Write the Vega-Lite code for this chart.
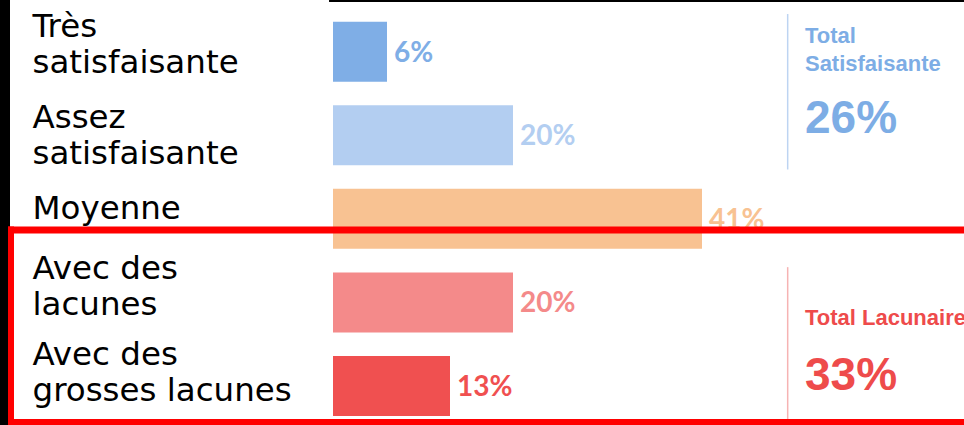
{
  "$schema": "https://vega.github.io/schema/vega-lite/v6.json",
  "width": 954,
  "height": 425,
  "autosize": {"type": "none"},
  "padding": {"left": 10, "top": 0, "right": 0, "bottom": 0},
  "background": "black",
  "config": {"view": {"fill": "white", "stroke": null}},
  "datasets": {
    "ratings": [
      {"appreciation": "Très satisfaisante", "part": 0.06},
      {"appreciation": "Assez satisfaisante", "part": 0.20},
      {"appreciation": "Moyenne", "part": 0.41},
      {"appreciation": "Avec des lacunes", "part": 0.20},
      {"appreciation": "Avec des grosses lacunes", "part": 0.13}
    ],
    "totals": [
      {"groupe": "Total Satisfaisante", "total": 0.26},
      {"groupe": "Total Lacunaire", "total": 0.33}
    ],
    "cadre": [{"zone": "lacunaire"}]
  },
  "data": {"name": "ratings"},
  "layer": [
    {
      "mark": {"type": "bar"},
      "encoding": {
        "y": {
          "field": "appreciation", "type": "nominal", "sort": null,
          "scale": {"domain": ["Très satisfaisante", "Assez satisfaisante", "Moyenne", "Avec des lacunes", "Avec des grosses lacunes"], "paddingInner": 0.2821, "paddingOuter": 0.1837, "align": 0.707},
          "axis": {
            "title": null, "domain": false, "ticks": false, "tickSize": 0, "grid": false, "zindex": 1,
            "labelPadding": -22, "labelAlign": "left", "labelBaseline": "alphabetic",
            "labelOffset": {
              "condition": [
                {"test": "datum.value === 'Très satisfaisante'", "value": -15},
                {"test": "datum.value === 'Assez satisfaisante'", "value": -7.5},
                {"test": "datum.value === 'Avec des lacunes'", "value": -23},
                {"test": "datum.value === 'Avec des grosses lacunes'", "value": -21}
              ],
              "value": 0
            },
            "labelFont": "DejaVu Sans", "labelFontSize": 32.5, "labelColor": "black", "labelLineHeight": 36, "labelLimit": 600,
            "labelExpr": "indexof(datum.label, 'Avec des ') == 0 ? ['Avec des', substring(datum.label, 9)] : (indexof(datum.label, ' ') > 0 ? [substring(datum.label, 0, indexof(datum.label, ' ')), substring(datum.label, indexof(datum.label, ' ') + 1)] : datum.label)"
          }
        },
        "x": {"field": "part", "type": "quantitative", "axis": null, "scale": {"domain": [-0.35889, 0.70111], "nice": false, "zero": false}},
        "color": {
          "field": "appreciation", "type": "nominal", "legend": null,
          "scale": {"domain": ["Très satisfaisante", "Assez satisfaisante", "Moyenne", "Avec des lacunes", "Avec des grosses lacunes"], "range": ["#7FAEE6", "#B3CEF1", "#F8C292", "#F48A8A", "#F05050"]}
        }
      }
    },
    {
      "data": {"name": "cadre"},
      "mark": {"type": "rule", "color": "black", "strokeWidth": 2},
      "encoding": {
        "x": {"datum": -0.0044, "type": "quantitative"},
        "x2": {"datum": 0.72},
        "y": {"datum": "Très satisfaisante", "type": "nominal", "bandPosition": -0.345}
      }
    },
    {
      "mark": {"type": "text", "align": "left", "baseline": "alphabetic", "dx": 7, "dy": 10, "font": "Lato", "fontWeight": "bold", "fontSize": 28},
      "encoding": {
        "y": {"field": "appreciation", "type": "nominal"},
        "x": {"field": "part", "type": "quantitative"},
        "text": {"field": "part", "format": ".0%"},
        "color": {"field": "appreciation", "type": "nominal", "legend": null}
      }
    },
    {
      "data": {"name": "totals"},
      "transform": [{"filter": "datum.groupe === 'Total Satisfaisante'"}],
      "mark": {"type": "rule", "color": "#BDD4F2", "strokeWidth": 1.5},
      "encoding": {
        "x": {"datum": 0.5052, "type": "quantitative"},
        "y": {"datum": "Très satisfaisante", "type": "nominal", "bandPosition": -0.128},
        "y2": {"datum": "Assez satisfaisante", "bandPosition": 1.07}
      }
    },
    {
      "data": {"name": "totals"},
      "transform": [{"filter": "datum.groupe === 'Total Satisfaisante'"}],
      "mark": {"type": "text", "align": "left", "baseline": "alphabetic", "font": "Liberation Sans", "fontWeight": "bold", "fontSize": 22, "lineBreak": " ", "lineHeight": 28.3, "color": "#7DADE5"},
      "encoding": {
        "x": {"datum": 0.5244, "type": "quantitative"},
        "y": {"datum": "Très satisfaisante", "type": "nominal", "bandPosition": 0.35},
        "text": {"field": "groupe"}
      }
    },
    {
      "data": {"name": "totals"},
      "transform": [{"filter": "datum.groupe === 'Total Satisfaisante'"}],
      "mark": {"type": "text", "align": "left", "baseline": "alphabetic", "font": "Liberation Sans", "fontWeight": "bold", "fontSize": 46, "color": "#7DADE5"},
      "encoding": {
        "x": {"datum": 0.5244, "type": "quantitative"},
        "y": {"datum": "Assez satisfaisante", "type": "nominal", "bandPosition": 0.46},
        "text": {"field": "total", "format": ".0%"}
      }
    },
    {
      "data": {"name": "totals"},
      "transform": [{"filter": "datum.groupe === 'Total Lacunaire'"}],
      "mark": {"type": "rule", "color": "#F6B3B3", "strokeWidth": 1.5},
      "encoding": {
        "x": {"datum": 0.5052, "type": "quantitative"},
        "y": {"datum": "Avec des lacunes", "type": "nominal", "bandPosition": -0.088},
        "y2": {"datum": "Avec des grosses lacunes", "bandPosition": 1.15}
      }
    },
    {
      "data": {"name": "totals"},
      "transform": [{"filter": "datum.groupe === 'Total Lacunaire'"}],
      "mark": {"type": "text", "align": "left", "baseline": "alphabetic", "font": "Liberation Sans", "fontWeight": "bold", "fontSize": 22, "color": "#EE4B4B"},
      "encoding": {
        "x": {"datum": 0.5244, "type": "quantitative"},
        "y": {"datum": "Avec des lacunes", "type": "nominal", "bandPosition": 0.878},
        "text": {"field": "groupe"}
      }
    },
    {
      "data": {"name": "totals"},
      "transform": [{"filter": "datum.groupe === 'Total Lacunaire'"}],
      "mark": {"type": "text", "align": "left", "baseline": "alphabetic", "font": "Liberation Sans", "fontWeight": "bold", "fontSize": 46, "color": "#EE4B4B"},
      "encoding": {
        "x": {"datum": 0.5244, "type": "quantitative"},
        "y": {"datum": "Avec des grosses lacunes", "type": "nominal", "bandPosition": 0.567},
        "text": {"field": "total", "format": ".0%"}
      }
    },
    {
      "data": {"name": "cadre"},
      "mark": {"type": "rule", "color": "#FF0000", "strokeWidth": 7},
      "encoding": {
        "x": {"datum": -0.3611, "type": "quantitative"},
        "x2": {"datum": 0.72},
        "y": {"datum": "Moyenne", "type": "nominal", "bandPosition": 0.687}
      }
    },
    {
      "data": {"name": "cadre"},
      "mark": {"type": "rule", "color": "#FF0000", "strokeWidth": 6},
      "encoding": {
        "x": {"datum": -0.35778, "type": "quantitative"},
        "y": {"datum": "Moyenne", "type": "nominal", "bandPosition": 0.628},
        "y2": {"datum": "Avec des grosses lacunes", "bandPosition": 1.15}
      }
    },
    {
      "data": {"name": "cadre"},
      "mark": {"type": "rule", "color": "#FF0000", "strokeWidth": 6},
      "encoding": {
        "x": {"datum": -0.3611, "type": "quantitative"},
        "x2": {"datum": 0.72},
        "y": {"datum": "Avec des grosses lacunes", "type": "nominal", "bandPosition": 1.1}
      }
    }
  ]
}
